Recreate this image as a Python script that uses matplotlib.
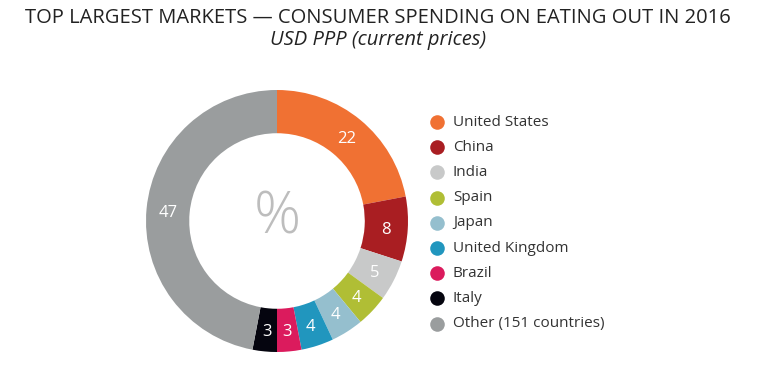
import matplotlib
matplotlib.use("Agg")
import matplotlib.pyplot as plt

# data
countries = ["United States", "China", "India", "Spain", "Japan",
             "United Kingdom", "Brazil", "Italy", "Other (151 countries)"]
shares = [22, 8, 5, 4, 4, 4, 3, 3, 47]
colors = ["#F07133", "#A91E22", "#C8C9C9", "#B0BE35", "#95BFCE",
          "#2196BE", "#DB1B5D", "#05050F", "#9A9D9E"]

plt.rcParams['font.family'] = ['Open Sans', 'DejaVu Sans']

W, H = 757, 365
fig = plt.figure(figsize=(W / 100, H / 100), dpi=100)

# donut
cx, cy, r = 277, 221, 131
ax = fig.add_axes([(cx - r) / W, (H - cy - r) / H, 2 * r / W, 2 * r / H])
wedges, texts = ax.pie(shares, colors=colors, startangle=90, counterclock=False,
                       radius=1, labels=[str(s) for s in shares], labeldistance=0.835,
                       wedgeprops=dict(width=0.33, linewidth=0),
                       textprops=dict(color="white", fontsize=12))
for t in texts:
    t.set_ha("center")
    t.set_va("center_baseline")
ax.set_xlim(-1, 1)
ax.set_ylim(-1, 1)
ax.set_aspect("equal")
ax.text(0, 0.02, "%", ha="center", va="center", fontsize=42, color="#BDBDBD",
        fontweight="light")

# title
fig.text(378 / W, 1 - 18 / H, "TOP LARGEST MARKETS \u2014 CONSUMER SPENDING ON EATING OUT IN 2016",
         ha="center", va="center", fontsize=14.5, color="#222222")
fig.text(378 / W, 1 - 40 / H, "USD PPP (current prices)", ha="center", va="center",
         fontsize=14.5, style="italic", color="#222222")

# legend
lax = fig.add_axes([0, 0, 1, 1])
lax.set_xlim(0, W)
lax.set_ylim(H, 0)
lax.axis("off")
for i, (name, c) in enumerate(zip(countries, colors)):
    y = 122 + i * 25.2
    lax.scatter([437], [y], s=110, color=c, linewidths=0)
    lax.text(453, y, name, va="center", ha="left", fontsize=11, color="#333333")

fig.savefig("out.png", dpi=100)
